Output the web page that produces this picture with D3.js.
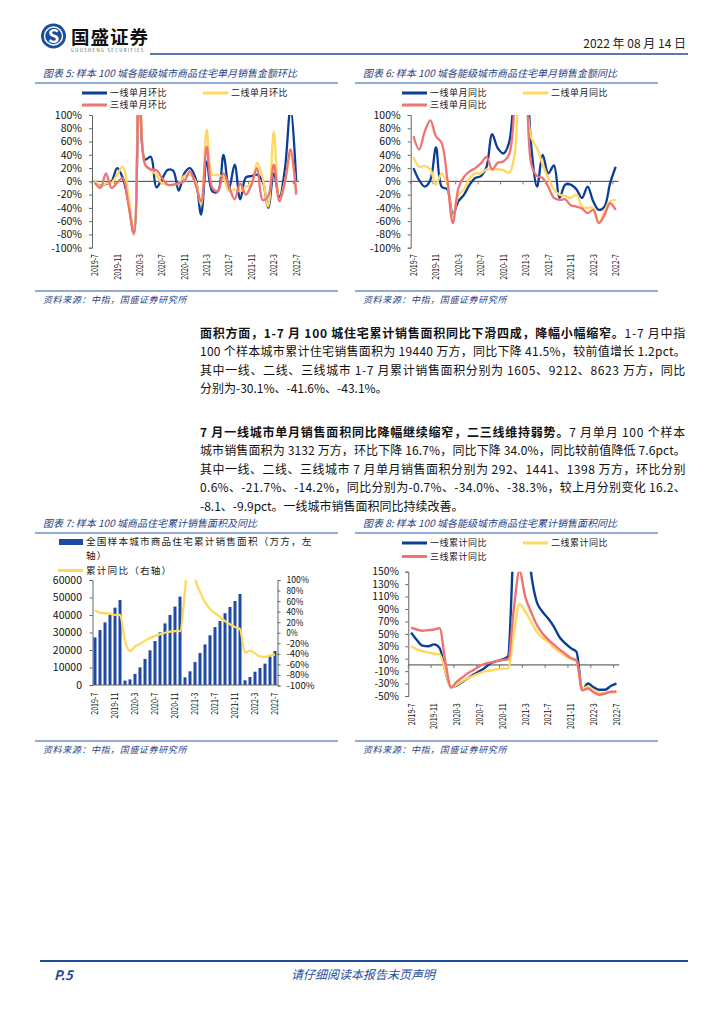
<!DOCTYPE html>
<html lang="zh">
<head>
<meta charset="UTF-8">
<title>国盛证券 P.5</title>
<style>
  body { margin: 0; background: #fff; }
  svg text { font-family: "Noto Sans CJK SC", "Noto Sans", sans-serif; }
</style>
</head>
<body>
<div id="page"></div>
<script src="https://cdn.jsdelivr.net/npm/d3@7"></script>
<script>

// ---------------- data ----------------
const months = ["2019-7","2019-8","2019-9","2019-10","2019-11","2019-12",
  "2020-1","2020-2","2020-3","2020-4","2020-5","2020-6","2020-7","2020-8","2020-9","2020-10","2020-11","2020-12",
  "2021-1","2021-2","2021-3","2021-4","2021-5","2021-6","2021-7","2021-8","2021-9","2021-10","2021-11","2021-12",
  "2022-1","2022-2","2022-3","2022-4","2022-5","2022-6","2022-7"];
const xTickLabels = ["2019-7","2019-11","2020-3","2020-7","2020-11","2021-3","2021-7","2021-11","2022-3","2022-7"];

// chart 5: 单月销售金额环比 (%)
const tier1MoM = [-2,-7,-4,0,20,5,-30,-80,180,33,37,-9,3,17,16,-14,12,20,5,-50,30,-15,-15,40,-11,25,-27,6,8,10,0,-40,12,-25,20,112,0];
const tier2MoM = [2,-8,-3,-2,10,22,-20,-80,200,25,17,10,-3,-5,-5,-3,8,10,0,-35,78,10,10,5,-15,-12,-15,-8,-5,28,5,-38,75,-28,0,40,-15];
const tier3MoM = [-2,-10,12,-10,-2,5,-35,-78,250,25,18,17,5,-5,-5,-3,0,15,-5,-30,52,-10,-15,12,-8,-27,-3,-20,-5,20,-28,-22,25,-30,0,48,-20];

// chart 6: 单月销售金额同比 (%)
const tier1YoY = [20,2,-8,2,51,-8,-12,-50,-30,-20,-5,5,8,22,71,50,42,58,160,300,200,50,-8,40,12,24,-25,-5,-5,-12,-25,-8,-30,-43,-38,-3,22];
const tier2YoY = [37,22,23,18,-5,12,-5,-55,-20,-12,5,12,12,18,18,18,17,13,40,250,140,65,50,25,5,-12,-20,-22,-25,-20,-38,-40,-40,-62,-45,-30,-28];
const tier3YoY = [68,48,75,92,68,58,5,-63,-10,7,15,20,27,37,18,28,30,40,120,300,200,25,8,5,-8,-25,-28,-27,-36,-38,-41,-48,-43,-63,-51,-33,-43];

// chart 7: 累计销售面积 (万方) 及累计同比 (%)
const cumArea = [27200,31400,35800,40000,44200,48600,
  2500,3200,6300,10100,14900,19800,25100,30100,35200,40000,44800,50500,
  4400,7800,13100,18300,23200,28400,33100,36600,41000,44600,48000,52000,
  2700,4600,7600,9700,12200,16300,19440];
const cumYoY = [42,38,37,36,34,34,-15,-35,-26,-21,-15,-10,-6,-3,0,2,3,3,80,200,105,78,58,45,37,30,22,16,11,7,-38,-34,-39,-45,-46,-43,-41.5];

// chart 8: 各能级累计销售面积同比 (%)
const tier1Cum = [52,40,31,30,33,27,-10,-36,-33,-27,-21,-15,-10,-4,3,6,9,14,200,300,250,150,102,86,75,62,45,35,27,21,-40,-30,-36,-40,-40,-34,-30.1];
const tier2Cum = [30,25,22,20,18,17,-10,-36,-32,-26,-21,-17,-13,-10,-9,-7,-6,-6,50,98,86,70,54,44,37,28,21,15,10,6,-38,-35,-41,-45,-45,-45,-41.6];
const tier3Cum = [60,57,55,56,57,59,5,-36,-27,-20,-13,-8,-2,2,4,6,8,9,90,151,110,86,65,51,41,33,25,18,11,7,-41,-38,-44,-48,-46,-43,-43.1];

const pctTicks100 = [-100,-80,-60,-40,-20,0,20,40,60,80,100];
const pctTicks150 = [-50,-30,-10,10,30,50,70,90,110,130,150];
const areaTicks = [0,10000,20000,30000,40000,50000,60000];

// ---------------- style ----------------
const BLUE = "#0b3f97", YELLOW = "#ffd95f", RED = "#f07272", BAR = "#1f4aa3";
const TITLE_C = "#1f3f86", RULE_C = "#2a5aa8";
const NUM = "'Liberation Sans', Arial, sans-serif";

const svg = d3.select("#page").append("svg")
    .attr("width", 724).attr("height", 1024);

// ---------------- header / footer ----------------
svg.append("circle").attr("cx", 53.5).attr("cy", 36).attr("r", 12.5).attr("fill", "#1b4f9c");
svg.append("circle").attr("cx", 53.5).attr("cy", 36).attr("r", 9).attr("fill", "none")
    .attr("stroke", "#fff").attr("stroke-width", 1.4);
svg.append("text").attr("x", 53.5).attr("y", 42.5).attr("text-anchor", "middle")
    .attr("font-size", 18).attr("font-weight", "bold").attr("fill", "#fff")
    .attr("font-family", NUM).text("S");
svg.append("text").attr("x", 71).attr("y", 43.5).attr("font-size", 18.5).attr("font-weight", "bold")
    .attr("letter-spacing", 1).attr("fill", "#111").text("国盛证券");
svg.append("text").attr("x", 71).attr("y", 51.5).attr("font-size", 4.2).attr("letter-spacing", 1.4)
    .attr("fill", "#444").attr("font-family", NUM).text("GUOSHENG SECURITIES");
svg.append("text").attr("x", 686).attr("y", 48).attr("text-anchor", "end")
    .attr("font-size", 12).attr("fill", "#222").text("2022 年 08 月 14 日");
svg.append("line").attr("x1", 150).attr("x2", 688).attr("y1", 54).attr("y2", 54)
    .attr("stroke", "#1f4e9c").attr("stroke-width", 1.6);

svg.append("line").attr("x1", 40).attr("x2", 688).attr("y1", 961).attr("y2", 961)
    .attr("stroke", "#1f4e9c").attr("stroke-width", 2.2);
svg.append("text").attr("x", 54).attr("y", 979.5).attr("font-size", 13).attr("font-weight", "bold")
    .attr("font-style", "italic").attr("font-family", NUM).attr("fill", "#1f4e9c").text("P.5");
svg.append("text").attr("x", 363).attr("y", 978.5).attr("text-anchor", "middle").attr("font-size", 12)
    .attr("font-style", "italic").attr("fill", "#1f4e9c").text("请仔细阅读本报告末页声明");

// ---------------- body text ----------------
const para1 = [
  [["面积方面，1-7 月 100 城住宅累计销售面积同比下滑四成，降幅小幅缩窄。", true], ["1-7 月中指", false]],
  [["100 个样本城市累计住宅销售面积为 19440 万方，同比下降 41.5%，较前值增长 1.2pct。", false]],
  [["其中一线、二线、三线城市 1-7 月累计销售面积分别为 1605、9212、8623 万方，同比", false]],
  [["分别为-30.1%、-41.6%、-43.1%。", false]]
];
const para2 = [
  [["7 月一线城市单月销售面积同比降幅继续缩窄，二三线维持弱势。", true], ["7 月单月 100 个样本", false]],
  [["城市销售面积为 3132 万方，环比下降 16.7%，同比下降 34.0%，同比较前值降低 7.6pct。", false]],
  [["其中一线、二线、三线城市 7 月单月销售面积分别为 292、1441、1398 万方，环比分别", false]],
  [["0.6%、-21.7%、-14.2%，同比分别为-0.7%、-34.0%、-38.3%，较上月分别变化 16.2、", false]],
  [["-8.1、-9.9pct。一线城市销售面积同比持续改善。", false]]
];

function writePara(lines, y0) {
  lines.forEach((runs, k) => {
    const t = svg.append("text").attr("x", 200).attr("y", y0 + k * 18.5)
        .attr("font-size", 12).attr("fill", "#111");
    runs.forEach(r => t.append("tspan").attr("font-weight", r[1] ? "bold" : "normal").text(r[0]));
    if (k < lines.length - 1) {
      const n = t.text().length;
      const len = t.node().getComputedTextLength();
      t.attr("letter-spacing", (486 - len) / n);
    }
  });
}
writePara(para1, 337.5);
writePara(para2, 436.5);

// ---------------- chart frame helpers ----------------
function frame(x0, ruleY, srcRuleY, title) {
  svg.append("text").attr("x", x0 + 8).attr("y", ruleY - 6.5).attr("font-size", 10)
      .attr("font-style", "italic").attr("fill", TITLE_C).text(title);
  [ruleY, srcRuleY].forEach(y => svg.append("line").attr("x1", x0).attr("x2", x0 + 303)
      .attr("y1", y).attr("y2", y).attr("stroke", RULE_C).attr("stroke-width", 1.2));
  svg.append("text").attr("x", x0 + 8).attr("y", srcRuleY + 12).attr("font-size", 9)
      .attr("letter-spacing", 0.6).attr("font-style", "italic").attr("fill", TITLE_C)
      .text("资料来源：中指，国盛证券研究所");
}

function legend3(x0, y1, y2, labels) {
  const items = [
    {x: x0 + 47, y: y1, c: BLUE, t: labels[0]},
    {x: x0 + 168, y: y1, c: YELLOW, t: labels[1]},
    {x: x0 + 47, y: y2, c: RED, t: labels[2]}
  ];
  items.forEach(d => {
    svg.append("line").attr("x1", d.x).attr("x2", d.x + 25).attr("y1", d.y).attr("y2", d.y)
        .attr("stroke", d.c).attr("stroke-width", 3);
    svg.append("text").attr("x", d.x + 28).attr("y", d.y).attr("dy", "0.35em")
        .attr("font-size", 9).attr("letter-spacing", 0.5).attr("fill", "#222").text(d.t);
  });
}

function xLabels(g, x, top) {
  g.selectAll("text.xl").data(xTickLabels).join("text")
      .attr("class", "xl")
      .attr("transform", d => `translate(${x(d) + x.bandwidth() / 2},${top}) rotate(-90)`)
      .attr("text-anchor", "end").attr("dy", "0.36em")
      .attr("font-size", 9.5).attr("font-family", NUM).attr("fill", "#111")
      .attr("textLength", d => d.length * 3.75 - 0.5).attr("lengthAdjust", "spacingAndGlyphs")
      .text(d => d);
}

function styleAxis(a, fs) {
  a.select(".domain").attr("stroke", "#666");
  a.selectAll(".tick line").attr("stroke", "#666");
  a.selectAll(".tick text").attr("font-size", fs).attr("font-family", NUM).attr("fill", "#111");
}

function lineChart(o) {
  const x = d3.scaleBand().domain(months).range(o.xr);
  const y = d3.scaleLinear().domain(o.yd).range(o.yr);
  const g = svg.append("g");

  svg.append("clipPath").attr("id", o.id).append("rect")
      .attr("x", o.xr[0]).attr("y", o.yr[1])
      .attr("width", o.xr[1] - o.xr[0] + 2).attr("height", o.yr[0] - o.yr[1]);

  const ya = g.append("g").attr("transform", `translate(${o.xr[0]},0)`)
      .call(d3.axisLeft(y).tickValues(o.ticks).tickSize(3).tickPadding(o.pad)
      .tickFormat(d => d + "%"));
  styleAxis(ya, o.fs);

  // category axis on the zero line, ticks at band starts
  const y0 = y(0);
  g.append("line").attr("x1", o.xr[0]).attr("x2", o.xr[1]).attr("y1", y0).attr("y2", y0)
      .attr("stroke", "#444").attr("stroke-width", 1);
  g.selectAll("line.xt").data(xTickLabels).join("line").attr("class", "xt")
      .attr("x1", d => x(d)).attr("x2", d => x(d)).attr("y1", y0).attr("y2", y0 + 3)
      .attr("stroke", "#777");
  xLabels(g, x, o.labelTop);

  const line = d3.line()
      .x((d, i) => x(months[i]) + x.bandwidth() / 2)
      .y(d => y(d))
      .curve(o.curve);
  o.series.forEach(s => {
    g.append("path").datum(s.v).attr("d", line).attr("clip-path", `url(#${o.id})`)
        .attr("fill", "none").attr("stroke", s.c).attr("stroke-width", o.lw)
        .attr("stroke-linejoin", "round");
  });
}

// ---------------- chart 5 ----------------
frame(35, 83, 291, "图表 5:  样本 100 城各能级城市商品住宅单月销售金额环比");
legend3(35, 93, 105, ["一线单月环比", "二线单月环比", "三线单月环比"]);
lineChart({
  id: "c5", xr: [92, 299], yd: [-100, 100], yr: [247.7, 115], ticks: pctTicks100, pad: 7, fs: 10.5,
  labelTop: 254, curve: d3.curveCatmullRom.alpha(0.5), lw: 2.3,
  series: [{v: tier1MoM, c: BLUE}, {v: tier2MoM, c: YELLOW}, {v: tier3MoM, c: RED}]
});

// ---------------- chart 6 ----------------
frame(355, 83, 291, "图表 6:  样本 100 城各能级城市商品住宅单月销售金额同比");
legend3(355, 93, 105, ["一线单月同比", "二线单月同比", "三线单月同比"]);
lineChart({
  id: "c6", xr: [410.7, 618.5], yd: [-100, 100], yr: [247.7, 115], ticks: pctTicks100, pad: 7, fs: 10.5,
  labelTop: 254, curve: d3.curveCatmullRom.alpha(0.5), lw: 2.3,
  series: [{v: tier1YoY, c: BLUE}, {v: tier2YoY, c: YELLOW}, {v: tier3YoY, c: RED}]
});

// ---------------- chart 7 ----------------
frame(35, 533, 741, "图表 7:  样本 100 城商品住宅累计销售面积及同比");
svg.append("rect").attr("x", 59).attr("y", 539).attr("width", 24).attr("height", 6).attr("fill", BAR);
svg.append("text").attr("x", 86).attr("y", 542).attr("dy", "0.35em").attr("font-size", 9.6)
    .attr("letter-spacing", 1.2).attr("fill", "#222").text("全国样本城市商品住宅累计销售面积（万方，左");
svg.append("text").attr("x", 86).attr("y", 555.5).attr("dy", "0.35em").attr("font-size", 9.6)
    .attr("letter-spacing", 1.2).attr("fill", "#222").text("轴）");
svg.append("line").attr("x1", 58).attr("x2", 83).attr("y1", 570.5).attr("y2", 570.5)
    .attr("stroke", YELLOW).attr("stroke-width", 3);
svg.append("text").attr("x", 86).attr("y", 570.5).attr("dy", "0.35em").attr("font-size", 9.6)
    .attr("letter-spacing", 1.2).attr("fill", "#222").text("累计同比（右轴）");

{
  const x = d3.scaleBand().domain(months).range([92.5, 277.5]);
  const yL = d3.scaleLinear().domain([0, 60000]).range([685, 580]);
  const yR = d3.scaleLinear().domain([-100, 100]).range([685.5, 580]);
  const g = svg.append("g");

  const la = g.append("g").attr("transform", "translate(92.5,0)")
      .call(d3.axisLeft(yL).tickValues(areaTicks).tickSize(3).tickPadding(7.5).tickFormat(d3.format("d")));
  styleAxis(la, 10.5);
  const ra = g.append("g").attr("transform", "translate(277.5,0)")
      .call(d3.axisRight(yR).tickValues(pctTicks100).tickSize(3).tickPadding(6).tickFormat(d => d + "%"));
  styleAxis(ra, 9.1);
  ra.selectAll(".tick text").attr("textLength", d => (String(d).length + 1) * 5.6)
      .attr("lengthAdjust", "spacingAndGlyphs");

  const bw = 3;
  g.selectAll("rect.bar").data(cumArea).join("rect").attr("class", "bar")
      .attr("x", (d, i) => x(months[i]) + x.bandwidth() / 2 - bw / 2)
      .attr("width", bw)
      .attr("y", d => yL(d)).attr("height", d => yL(0) - yL(d))
      .attr("fill", BAR);

  g.append("line").attr("x1", 92.5).attr("x2", 277.5).attr("y1", 685).attr("y2", 685)
      .attr("stroke", "#666");
  xLabels(g, x, 692.7);

  svg.append("clipPath").attr("id", "c7").append("rect")
      .attr("x", 92.5).attr("y", 580).attr("width", 186).attr("height", 106);
  const line = d3.line()
      .x((d, i) => x(months[i]) + x.bandwidth() / 2)
      .y(d => yR(d))
      .curve(d3.curveMonotoneX);
  g.append("path").datum(cumYoY).attr("d", line).attr("clip-path", "url(#c7)")
      .attr("fill", "none").attr("stroke", YELLOW).attr("stroke-width", 2.3);
}

// ---------------- chart 8 ----------------
frame(355, 533, 741, "图表 8:  样本 100 城各能级城市商品住宅累计销售面积同比");
legend3(355, 543, 556.5, ["一线累计同比", "二线累计同比", "三线累计同比"]);
lineChart({
  id: "c8", xr: [408.3, 619.3], yd: [-50, 150], yr: [696, 571.7], ticks: pctTicks150, pad: 6.3, fs: 10.3,
  labelTop: 703.3, curve: d3.curveMonotoneX, lw: 2.4,
  series: [{v: tier1Cum, c: BLUE}, {v: tier2Cum, c: YELLOW}, {v: tier3Cum, c: RED}]
});

</script>
</body>
</html>
